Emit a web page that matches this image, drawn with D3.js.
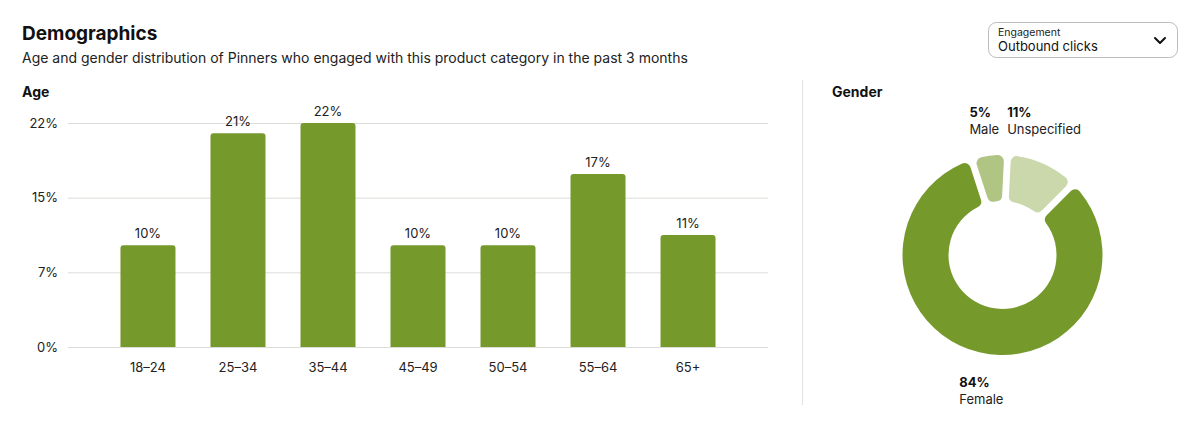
<!DOCTYPE html>
<html>
<head>
<meta charset="utf-8">
<script src="https://cdn.jsdelivr.net/npm/d3@7"></script>
<style>
  html, body { margin: 0; padding: 0; background: #fff; }
  svg { display: block; font-family: Inter, "Liberation Sans", sans-serif; }
</style>
</head>
<body>
<svg id="chart" width="1200" height="426"></svg>
<script>
const ageGroups = ["18–24", "25–34", "35–44", "45–49", "50–54", "55–64", "65+"];
const ageValues = [10, 21, 22, 10, 10, 17, 11];
const yMax = 22;
const yTicks = [0, 22 / 3, 44 / 3, 22];

const genderLabels = ["Male", "Unspecified", "Female"];
const genderValues = [5, 11, 84];
const genderColors = ["#b0c483", "#cad8ab", "#76992c"];

const svg = d3.select("#chart");
const barColor = "#76992c";
const textColor = "#222";

// header
svg.append("text").attr("x", 22).attr("y", 40)
    .style("font-size", "19px").style("font-weight", 700).attr("fill", "#111")
    .text("Demographics");
svg.append("text").attr("x", 22).attr("y", 63)
    .style("font-size", "14px").attr("fill", textColor)
    .text("Age and gender distribution of Pinners who engaged with this product category in the past 3 months");

// dropdown
const dd = svg.append("g").attr("transform", "translate(988,22)");
dd.append("rect").attr("x", 0.5).attr("y", 0.5).attr("width", 189).attr("height", 35)
    .attr("rx", 8).attr("fill", "#fff").attr("stroke", "#bbb");
dd.append("text").attr("x", 10).attr("y", 14).style("font-size", "10.5px").attr("fill", textColor).text("Engagement");
dd.append("text").attr("x", 10).attr("y", 29).style("font-size", "13px").attr("fill", "#111").text("Outbound clicks");
dd.append("path").attr("d", "M167,16 l5,5 l5,-5").attr("fill", "none")
    .attr("stroke", "#111").attr("stroke-width", 2).attr("stroke-linecap", "round").attr("stroke-linejoin", "round");

// age bar chart
svg.append("text").attr("x", 22).attr("y", 97)
    .style("font-size", "14px").style("font-weight", 700).attr("fill", "#111").text("Age");

const x = d3.scaleBand().domain(ageGroups).range([68, 768])
    .paddingInner(35 / 90).paddingOuter(0.583);
const y = d3.scaleLinear().domain([0, yMax]).range([347, 123]);

const yAxis = svg.append("g").attr("transform", "translate(68,0)")
    .call(d3.axisLeft(y).tickValues(yTicks).tickSize(-700).tickFormat(d => Math.round(d) + "%"));
yAxis.select(".domain").remove();
yAxis.selectAll(".tick line").attr("stroke", "#dcdcd8");
yAxis.selectAll(".tick text").attr("x", -10).style("font-size", "13px")
    .style("font-family", "Inter, 'Liberation Sans', sans-serif").attr("fill", textColor);

const xAxis = svg.append("g").attr("transform", "translate(0,347)")
    .call(d3.axisBottom(x).tickSize(0).tickPadding(16));
xAxis.select(".domain").remove();
xAxis.selectAll(".tick text").style("font-size", "13px")
    .style("font-family", "Inter, 'Liberation Sans', sans-serif").attr("fill", textColor);

const r = 3;
svg.append("g").selectAll("path").data(ageValues).join("path")
    .attr("fill", barColor)
    .attr("d", (d, i) => {
        const x0 = x(ageGroups[i]), w = x.bandwidth(), y0 = y(d), y1 = y(0);
        return `M${x0},${y1}V${y0 + r}Q${x0},${y0} ${x0 + r},${y0}H${x0 + w - r}Q${x0 + w},${y0} ${x0 + w},${y0 + r}V${y1}Z`;
    });

svg.append("g").selectAll("text").data(ageValues).join("text")
    .attr("x", (d, i) => x(ageGroups[i]) + x.bandwidth() / 2)
    .attr("y", d => y(d) - 7)
    .attr("text-anchor", "middle").style("font-size", "13px").attr("fill", textColor)
    .text(d => d + "%");

// divider
svg.append("line").attr("x1", 802.5).attr("x2", 802.5).attr("y1", 80).attr("y2", 405)
    .attr("stroke", "#e2e2de");

// gender donut
svg.append("text").attr("x", 832).attr("y", 97)
    .style("font-size", "14px").style("font-weight", 700).attr("fill", "#111").text("Gender");

const cx = 1002.5, cy = 255, outerR = 100, innerR = 54;
const pie = d3.pie().sort(null).startAngle(-genderValues[0] / 100 * 2 * Math.PI)
    .endAngle(2 * Math.PI - genderValues[0] / 100 * 2 * Math.PI).padAngle(0.06);
const arcs = pie(genderValues);
const arc = d3.arc().innerRadius(innerR).outerRadius(outerR).cornerRadius(6);

const donut = svg.append("g").attr("transform", `translate(${cx},${cy})`);
donut.selectAll("path").data(arcs).join("path")
    .attr("d", arc).attr("fill", (d, i) => genderColors[i]);

// labels: top labels are laid out left to right, bottom label sits under the ring
let prevEnd = null;
arcs.forEach((a, i) => {
    const mid = (a.startAngle + a.endAngle) / 2;
    const top = Math.cos(mid) > 0;
    let lx = cx + Math.sin(mid) * outerR - 20;
    if (top && prevEnd !== null) lx = prevEnd + 8;
    const y0 = top ? cy - outerR - 38 : cy + outerR + 32;
    const g = svg.append("g");
    g.append("text").attr("x", lx).attr("y", y0)
        .style("font-size", "13px").style("font-weight", 700).attr("fill", "#111")
        .text(genderValues[i] + "%");
    const t = g.append("text").attr("x", lx).attr("y", y0 + 17)
        .style("font-size", "13px").attr("fill", textColor).text(genderLabels[i]);
    if (top) prevEnd = lx + t.node().getComputedTextLength();
});
</script>
</body>
</html>
